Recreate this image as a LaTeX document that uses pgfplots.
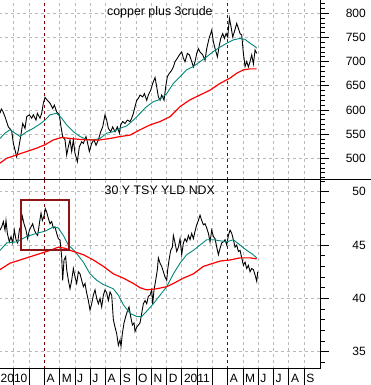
\documentclass[border=0pt]{standalone}
\usepackage{fontspec}
\setmainfont{Liberation Sans}
\usepackage{pgfplots}
\usepackage{pgfplotstable}
\pgfplotsset{compat=1.18}
\definecolor{gridgray}{RGB}{185,185,185}
\definecolor{vmaroon}{RGB}{128,0,0}
\definecolor{boxred}{RGB}{140,20,20}
\definecolor{mateal}{RGB}{0,135,120}
\definecolor{mared}{RGB}{255,0,0}

% x values are read in reference units; converted to months (0 = 1 Jan 2010)
\pgfplotstableread{
X v
0 593
4 602
8 598
15 586
25 565
35 557
40 531
50 503
55 517
62 545
68 572
75 562
80 586
88 590
95 583
100 590
108 579
112 593
120 583
125 593
130 614
135 626
142 620
150 614
158 603
163 610
170 596
178 590
183 565
188 545
195 538
200 507
205 524
210 538
215 514
220 538
225 510
232 493
238 524
245 534
250 531
258 545
262 534
268 514
275 531
282 538
288 527
295 538
302 555
308 565
315 590
320 579
325 562
332 555
338 565
345 555
352 565
358 552
362 569
368 576
375 572
382 579
390 576
395 583
400 593
405 607
410 620
415 624
420 631
428 627
433 634
440 620
445 631
452 641
458 655
465 667
470 648
475 627
480 620
485 631
492 620
497 648
502 669
508 676
515 682
520 689
525 700
532 707
538 714
545 720
550 707
555 700
562 717
568 714
575 700
580 689
585 700
590 717
595 727
600 720
608 714
615 703
620 727
627 748
635 765
640 741
645 727
652 710
657 731
662 748
668 758
673 748
678 758
683 751
688 790
693 772
698 751
703 762
710 779
715 769
720 758
725 755
730 717
735 690
740 700
745 689
750 700
755 714
760 695
765 724
770 717
}\cuBlack

\pgfplotstableread{
X v
0 541
15 552
30 559
45 552
60 545
80 555
100 562
120 571
135 579
150 590
170 593
185 583
200 569
220 555
240 545
260 539
280 538
300 541
320 552
340 555
360 562
380 567
400 579
420 593
440 607
460 617
480 622
500 634
520 655
540 669
560 683
580 690
600 700
620 710
640 721
660 730
680 738
700 745
720 748
735 746
750 738
765 731
770 728
}\cuGreen

\pgfplotstableread{
X v
0 490
20 500
50 507
80 514
110 521
135 528
160 538
185 543
210 541
240 539
270 538
300 538
330 541
360 545
390 548
420 559
450 569
480 576
510 586
540 607
570 621
600 631
630 641
660 655
690 666
710 676
730 683
750 685
770 685
}\cuRed

\pgfplotstableread{
X v
0 46.4
5 46.7
10 47.2
15 46.4
18 47.3
22 46.1
28 45.3
33 45.8
38 45.2
43 46.4
48 45.5
53 45.2
58 46.4
63 46.9
67 47.7
72 47.0
78 46.4
83 45.6
88 46.4
93 46.7
98 47.0
103 46.4
108 46.1
113 45.9
118 47.0
123 48.0
127 47.3
132 47.7
136 48.4
140 48.1
145 47.5
150 47.0
155 47.2
160 46.6
165 46.7
170 46.1
175 45.6
180 45.5
185 43.9
188 41.7
192 43.6
197 43.9
200 42.7
205 41.7
210 40.9
215 41.7
220 42.8
225 42.0
230 41.4
235 42.5
240 42.3
245 41.7
250 41.1
255 41.4
260 40.5
265 39.8
270 38.9
275 39.5
280 40.3
285 40.8
290 40.0
295 39.5
300 40.0
305 39.2
310 40.3
315 40.8
320 40.5
325 39.8
330 40.6
335 40.3
340 38.0
345 37.3
350 36.7
355 35.6
360 36.1
363 35.5
367 36.7
372 37.7
377 38.3
382 38.8
387 39.2
392 38.3
397 37.5
402 37.7
405 36.9
410 37.3
415 37.5
420 37.7
425 38.6
430 39.5
435 39.8
440 39.5
445 40.2
450 40.3
455 40.8
458 39.5
462 40.8
467 41.7
472 42.7
475 43.8
480 43.3
485 43.0
490 42.5
495 42.0
500 41.7
503 42.7
507 43.6
512 44.5
517 44.8
520 45.9
525 45.2
530 44.4
535 44.8
540 45.6
545 44.1
550 45.2
555 45.6
560 45.3
565 45.9
570 45.5
575 46.1
580 45.6
585 46.3
590 46.9
595 47.3
600 47.8
605 47.3
610 46.9
615 47.0
620 46.6
625 46.1
630 45.3
635 46.4
640 45.8
645 45.6
650 44.8
655 44.1
660 44.7
665 45.2
670 45.3
675 45.5
680 45.0
685 45.9
690 46.4
695 46.1
700 45.5
705 44.8
710 45.0
715 44.4
720 44.5
725 43.8
730 43.1
735 43.4
740 42.8
745 43.1
750 42.5
755 42.8
760 42.7
765 42.2
770 41.6
773 42.5
}\tyBlack

\pgfplotstableread{
X v
0 44.5
20 45.2
50 45.3
80 45.8
110 46.1
135 46.3
160 46.7
175 46.6
190 45.9
205 45.0
225 44.4
250 43.4
270 42.3
290 41.7
310 41.3
340 40.9
355 40.3
370 39.4
390 38.6
410 38.3
425 38.3
440 38.8
460 39.5
480 40.3
500 41.1
520 42.3
540 43.3
560 44.1
580 44.5
600 45.0
620 45.5
640 45.5
660 45.4
680 45.3
700 45.5
720 45.0
740 44.5
755 44.2
770 43.8
}\tyGreen

\pgfplotstableread{
X v
0 42.7
30 43.3
60 43.6
90 43.9
120 44.2
150 44.5
175 44.8
195 44.7
220 44.4
250 44.1
280 43.6
310 43.0
340 42.3
370 41.9
400 41.4
420 41.0
440 40.8
470 40.9
500 41.1
520 41.4
550 41.9
580 42.3
610 43.0
640 43.3
660 43.5
690 43.6
720 43.8
750 43.8
770 43.7
}\tyRed

\pgfplotsset{
  panel/.style={
    scale only axis, width=321.5pt, xmin=0, xmax=21.04,
    separate axis lines,
    axis x line*=bottom, axis y line*=right,
    x axis line style={draw=none},
    y axis line style={black, line width=0.9pt},
    xtick={0,...,20}, xticklabels={}, xtick style={draw=none},
    xmajorgrids, ymajorgrids,
    major grid style={gridgray, dash pattern=on 3pt off 3pt, line width=0.8pt},
    tick align=outside, major tick length=9pt, minor tick length=4.5pt,
    ytick style={black, line width=0.8pt},
    yticklabel style={font=\fontsize{12}{14}\selectfont, anchor=east, inner sep=0pt, xshift=37pt},
    /pgf/number format/assume math mode=true,
  },
  blk/.style={black, line width=0.9pt},
  grn/.style={mateal, line width=0.9pt},
  rd/.style={mared, line width=1.2pt},
}
\tikzset{ptitle/.style={anchor=base, inner sep=0pt, font=\fontsize{12.4}{14}\selectfont}}

\begin{document}
\begin{tikzpicture}
\path[use as bounding box] (0,0) rectangle (371pt,385pt);

% top panel
\begin{axis}[panel, at={(-1.5pt,205pt)}, anchor=south west, height=180pt,
  ymin=455.1, ymax=827.5, ytick={500,550,...,800}, minor ytick={460,470,...,820}]
  \draw[vmaroon, line width=0.9pt, dash pattern=on 3pt off 3pt] (axis cs:3,455.1) -- (axis cs:3,827.5);
  \draw[vmaroon, line width=0.9pt, dash pattern=on 3pt off 3pt] (axis cs:15,455.1) -- (axis cs:15,827.5);
  \addplot[blk] table[x expr=(\thisrow{X}+4.5)/45.83, y=v] {\cuBlack};
  \addplot[grn] table[x expr=(\thisrow{X}+4.5)/45.83, y=v] {\cuGreen};
  \addplot[rd] table[x expr=(\thisrow{X}+4.5)/45.83, y=v] {\cuRed};
  \node[ptitle, yshift=-16pt, xshift=0.6pt] at (rel axis cs:0.5,1) {copper plus 3crude};
\end{axis}

% bottom panel
\begin{axis}[panel, at={(-1.5pt,16pt)}, anchor=south west, height=189pt,
  ymin=33.38, ymax=51.1, ytick={35,40,45,50}, minor ytick={34,35,...,51}]
  \draw[vmaroon, line width=0.9pt, dash pattern=on 3pt off 3pt] (axis cs:3,33.38) -- (axis cs:3,51.1);
  \draw[vmaroon, line width=0.9pt, dash pattern=on 3pt off 3pt] (axis cs:15,33.38) -- (axis cs:15,51.1);
  \addplot[blk] table[x expr=(\thisrow{X}+4.5)/45.83, y=v] {\tyBlack};
  \addplot[grn] table[x expr=(\thisrow{X}+4.5)/45.83, y=v] {\tyGreen};
  \addplot[rd] table[x expr=(\thisrow{X}+4.5)/45.83, y=v] {\tyRed};
  \draw[boxred, line width=2.2pt] (axis cs:1.451,44.54) rectangle (axis cs:4.637,49.22);
  \node[ptitle, yshift=-15pt, xshift=0.6pt] at (rel axis cs:0.5,1) {30 Y TSY YLD NDX};
\end{axis}

% month axis
\begin{axis}[scale only axis, at={(-1.5pt,16pt)}, anchor=south west, width=321.5pt, height=189pt,
  xmin=0, xmax=21.04, ymin=0, ymax=1,
  axis x line*=bottom, axis y line=none,
  x axis line style={black, line width=1pt},
  xtick={0,...,20},
  xticklabels={2010,,,A,M,J,J,A,S,O,N,D,2011,,,A,M,J,J,A,S},
  tick align=outside, major tick length=16pt,
  xtick style={black, line width=0.8pt},
  xticklabel style={font=\fontsize{12}{14}\selectfont, anchor=north west, inner sep=0pt, xshift=2pt, yshift=11pt}]
  \addplot[draw=none] coordinates {(1,0.5)};
\end{axis}

\draw[black, line width=1pt] (0,205pt) -- (371pt,205pt);
\end{tikzpicture}
\end{document}
